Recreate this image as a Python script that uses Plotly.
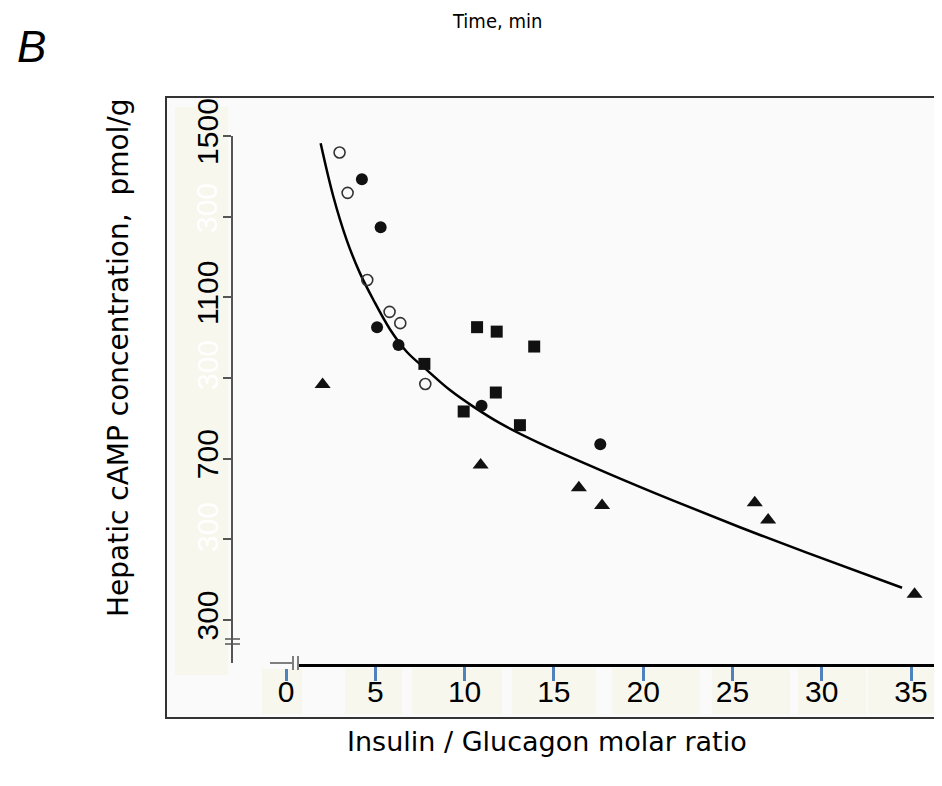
import plotly.graph_objects as go

# the page puts the figure 8 px in from the top-left corner
OFF = 8
W, H = 942 - 2 * OFF, 786 - 2 * OFF

# ---- data ----
open_x = [3.0, 3.45, 4.55, 5.8, 6.4, 7.8]
open_y = [1459, 1359, 1143, 1064, 1036, 885]

filled_x = [4.25, 5.3, 5.1, 6.3, 10.95, 17.6]
filled_y = [1393, 1274, 1026, 982, 831, 736]

square_x = [7.75, 10.7, 11.8, 13.9, 11.75, 9.95, 13.1]
square_y = [935, 1026, 1015, 978, 864, 817, 783]

tri_x = [2.05, 10.9, 16.4, 17.7, 26.25, 27.0, 35.2]
tri_y = [884, 684, 628, 584, 591, 548, 364]

curve_x = [1.94, 2.65, 3.40, 4.14, 4.89, 5.82, 6.76, 7.88, 9.18, 10.49, 11.98,
           14.22, 17.96, 21.69, 25.42, 29.16, 34.5]
curve_y = [1482, 1350, 1242, 1160, 1094, 1021, 965, 920, 870, 829, 788,
           738, 665, 596, 530, 467, 380]

x_ticks = [0, 5, 10, 15, 20, 25, 30, 35]
y_ticks = [300, 700, 1100, 1500]
y_minor = [500, 900, 1300]


def px(x):
    return (x - OFF) / W


def py(y):
    return 1 - (y - OFF) / H


fig = go.Figure()

mk_line = dict(color="#111111", width=0)
fig.add_trace(go.Scatter(x=curve_x, y=curve_y, mode="lines",
                         line=dict(color="black", width=2.5, shape="spline", smoothing=1.0),
                         hoverinfo="skip", showlegend=False))
fig.add_trace(go.Scatter(x=open_x, y=open_y, mode="markers", cliponaxis=False,
                         marker=dict(symbol="circle-open", size=11, color="#333333",
                                     line=dict(width=1.6, color="#333333")),
                         showlegend=False))
fig.add_trace(go.Scatter(x=filled_x, y=filled_y, mode="markers", cliponaxis=False,
                         marker=dict(symbol="circle", size=12, color="#111111", line=mk_line),
                         showlegend=False))
fig.add_trace(go.Scatter(x=square_x, y=square_y, mode="markers", cliponaxis=False,
                         marker=dict(symbol="square", size=12, color="#111111", line=mk_line),
                         showlegend=False))
fig.add_trace(go.Scatter(x=tri_x, y=tri_y, mode="markers", cliponaxis=False,
                         marker=dict(symbol="triangle-up", size=14, color="#111111", line=mk_line),
                         showlegend=False))

sx = (911 - 286) / 35.0
sy = (620 - 136) / 1200.0
tick_font = dict(family="Liberation Sans, Arial, sans-serif", size=30, color="black")
x_end = 934

fig.update_layout(
    width=W, height=H,
    margin=dict(l=0, r=0, t=0, b=0, pad=0, autoexpand=False),
    paper_bgcolor="white",
    plot_bgcolor="rgba(0,0,0,0)",
    xaxis=dict(
        domain=[px(270), px(x_end)],
        range=[(270 - 286) / sx, (x_end - 286) / sx],
        anchor="free", position=py(665), automargin=False,
        showline=True, linecolor="black", linewidth=2.5,
        tickvals=x_ticks, ticks="outside", ticklen=14, tickwidth=2.5, tickcolor="#4f81bd",
        ticklabelstandoff=-15,
        tickfont=tick_font, showgrid=False, zeroline=False,
    ),
    yaxis=dict(
        domain=[py(663), py(136)],
        range=[300 - (663 - 620) / sy, 1500],
        anchor="free", position=px(232), automargin=False,
        showline=True, linecolor="#555555", linewidth=1.5,
        tickvals=y_ticks, ticks="outside", ticklen=8, tickwidth=1.5, tickcolor="#555555",
        minor=dict(tickvals=y_minor, ticks="outside", ticklen=8, tickwidth=1.5, tickcolor="#555555"),
        ticklabelstandoff=-7,
        tickangle=-90, tickfont=tick_font, showgrid=False, zeroline=False,
    ),
)

shapes = []
# frame with off-white scan background
shapes.append(dict(type="rect", xref="paper", yref="paper", layer="below",
                   x0=px(166), x1=px(950), y0=py(718), y1=py(97),
                   fillcolor="#fafafa", line=dict(color="#333333", width=2)))
# beige label patches
shapes.append(dict(type="rect", xref="paper", yref="paper", layer="below",
                   x0=px(175), x1=px(228), y0=py(675), y1=py(107),
                   fillcolor="#f7f7ee", line=dict(width=0)))
for a, b in [(262, 302), (345, 402), (412, 502), (512, 596), (612, 700), (712, 790), (798, 866), (868, 937)]:
    shapes.append(dict(type="rect", xref="paper", yref="paper", layer="below",
                       x0=px(a), x1=px(b), y0=py(714), y1=py(668),
                       fillcolor="#f7f7ee", line=dict(width=0)))
# x-axis break: cover start of axis line, then stub and bars
shapes.append(dict(type="rect", xref="paper", yref="paper", layer="above",
                   x0=px(266), x1=px(299), y0=py(669), y1=py(661),
                   fillcolor="#fafafa", line=dict(width=0)))
shapes.append(dict(type="line", xref="paper", yref="paper", layer="above",
                   x0=px(270), x1=px(292), y0=py(663), y1=py(663),
                   line=dict(color="#555555", width=1.5)))
for xb in [293, 298]:
    shapes.append(dict(type="line", xref="paper", yref="paper", layer="above",
                       x0=px(xb), x1=px(xb), y0=py(670), y1=py(656),
                       line=dict(color="#555555", width=1.5)))
# y-axis break bars
for yb in [639, 644]:
    shapes.append(dict(type="line", xref="paper", yref="paper", layer="above",
                       x0=px(225), x1=px(240), y0=py(yb), y1=py(yb),
                       line=dict(color="#555555", width=1.5)))
fig.update_layout(shapes=shapes)

title_font = "DejaVu Sans, Verdana, sans-serif"
C = dict(xref="paper", yref="paper", showarrow=False, xanchor="center", yanchor="middle")
ann = []
ann.append(dict(text="<i>B</i>", x=px(31), y=py(47),
                font=dict(family="Liberation Sans, Arial", size=44, color="black"), **C))
ann.append(dict(text="Time, min", x=px(497), y=py(21),
                font=dict(family="DejaVu Sans Condensed, DejaVu Sans", size=20, color="black"), **C))
ann.append(dict(text="Hepatic cAMP concentration,  pmol/g", x=px(118), y=py(358), textangle=-90,
                font=dict(family=title_font, size=28, color="black"), **C))
ann.append(dict(text="Insulin / Glucagon molar ratio", x=px(547), y=py(741),
                font=dict(family=title_font, size=27, color="black"), **C))
# faint ghost labels from the scanned figure
for gy in [208, 365, 527]:
    ann.append(dict(text="300", x=px(207), y=py(gy), textangle=-90,
                    font=dict(family="Liberation Sans, Arial", size=30, color="#ffffff"), **C))
fig.update_layout(annotations=ann)

fig.write_html("out.html")
